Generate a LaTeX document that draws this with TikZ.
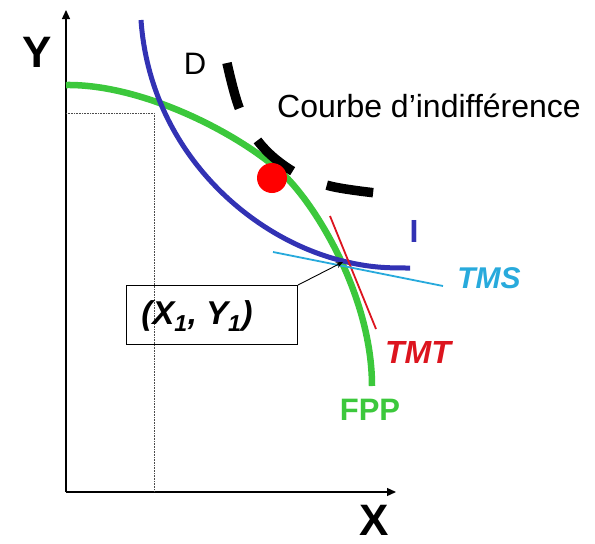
\documentclass[tikz,border=0pt]{standalone}
\usepackage{fontspec}
\setmainfont{Liberation Sans}
\usetikzlibrary{arrows.meta}
\definecolor{fppgreen}{RGB}{60,200,60}
\definecolor{iblue}{RGB}{50,50,180}
\definecolor{tmscyan}{RGB}{40,170,220}
\definecolor{tmtred}{RGB}{220,20,30}
\tikzset{
  axis/.style={line width=1.3pt,-{Triangle[length=9pt,width=8pt]}},
  guide/.style={densely dotted,line width=0.6pt,gray!60!black},
  lbl/.style={inner sep=0pt,font=\fontsize{31}{36}\selectfont}
}
\begin{document}
\begin{tikzpicture}[x=1pt,y=-1pt]
\useasboundingbox (0,0) rectangle (595,544);
% axes
\coordinate (O) at (66,492);
\coordinate (ytop) at (66,10);
\coordinate (xend) at (396,492);
\draw[axis] (O) -- (ytop);
\draw[axis] (O) -- (xend);
\node[lbl,font=\bfseries\fontsize{44}{48}\selectfont] (ylab) at (37,52) {Y};
\node[lbl,font=\bfseries\fontsize{44}{48}\selectfont] (xlab) at (374,520) {X};
% guides
\coordinate (gy) at (66,113);
\coordinate (gc) at (154,113);
\coordinate (gx) at (154,492);
\draw[guide] (gy) -- (gc) -- (gx);
% FPP
\draw[fppgreen,line width=6.5pt] (66,85) .. controls (148,84) and (250,140) .. (287,178)
  .. controls (320,212) and (372,300) .. (372,386);
% indifference I
\draw[iblue,line width=5pt] (141,20) .. controls (150,150) and (250,240) .. (347,262)
  .. controls (373,268) and (390,268) .. (410,268);
% D dashed
\draw[black,line width=9.5pt,dash pattern=on 47pt off 37pt] plot[smooth,tension=0.6] coordinates
  {(227,63) (240,110) (262,146) (294,172) (330,186) (376,193)};
\node[lbl] (dlab) at (195,64) {D};
\node[lbl,font=\fontsize{32}{36}\selectfont] (clab) at (429,106) {Courbe d’indifférence};
% red dot
\fill[red] (272,178) circle (15);
% tangents
\coordinate (tmtA) at (330,216);
\coordinate (tmtB) at (376,329);
\draw[tmtred,line width=1.8pt] (tmtA) -- (tmtB);
\coordinate (tmsA) at (273,252);
\coordinate (tmsB) at (443,286);
\draw[tmscyan,line width=1.8pt] (tmsA) -- (tmsB);
\coordinate (E) at (343,262);
% labels
\node[lbl,text=iblue,font=\bfseries\fontsize{32}{36}\selectfont] (ilab) at (414,231) {I};
\node[lbl,text=tmscyan,font=\bfseries\itshape\fontsize{30}{34}\selectfont] (tmslab) at (489,278) {TMS};
\node[lbl,text=tmtred,font=\bfseries\itshape\fontsize{32}{36}\selectfont] (tmtlab) at (418,352) {TMT};
\node[lbl,text=fppgreen,font=\bfseries\fontsize{31}{34}\selectfont] (fpplab) at (370,410) {FPP};
% box
\node[draw,line width=1pt,minimum width=171pt,minimum height=59pt,inner sep=0pt,anchor=north west] (box) at (126,285) {};
\node[font=\bfseries\itshape\fontsize{33}{36}\selectfont,inner sep=0pt] (boxtxt) at (197,316) {(X\textsubscript{1}, Y\textsubscript{1})};
\draw[line width=0.9pt,-{Stealth[length=7pt,width=6pt]}] (box.north east) -- (E);
\end{tikzpicture}
\end{document}
